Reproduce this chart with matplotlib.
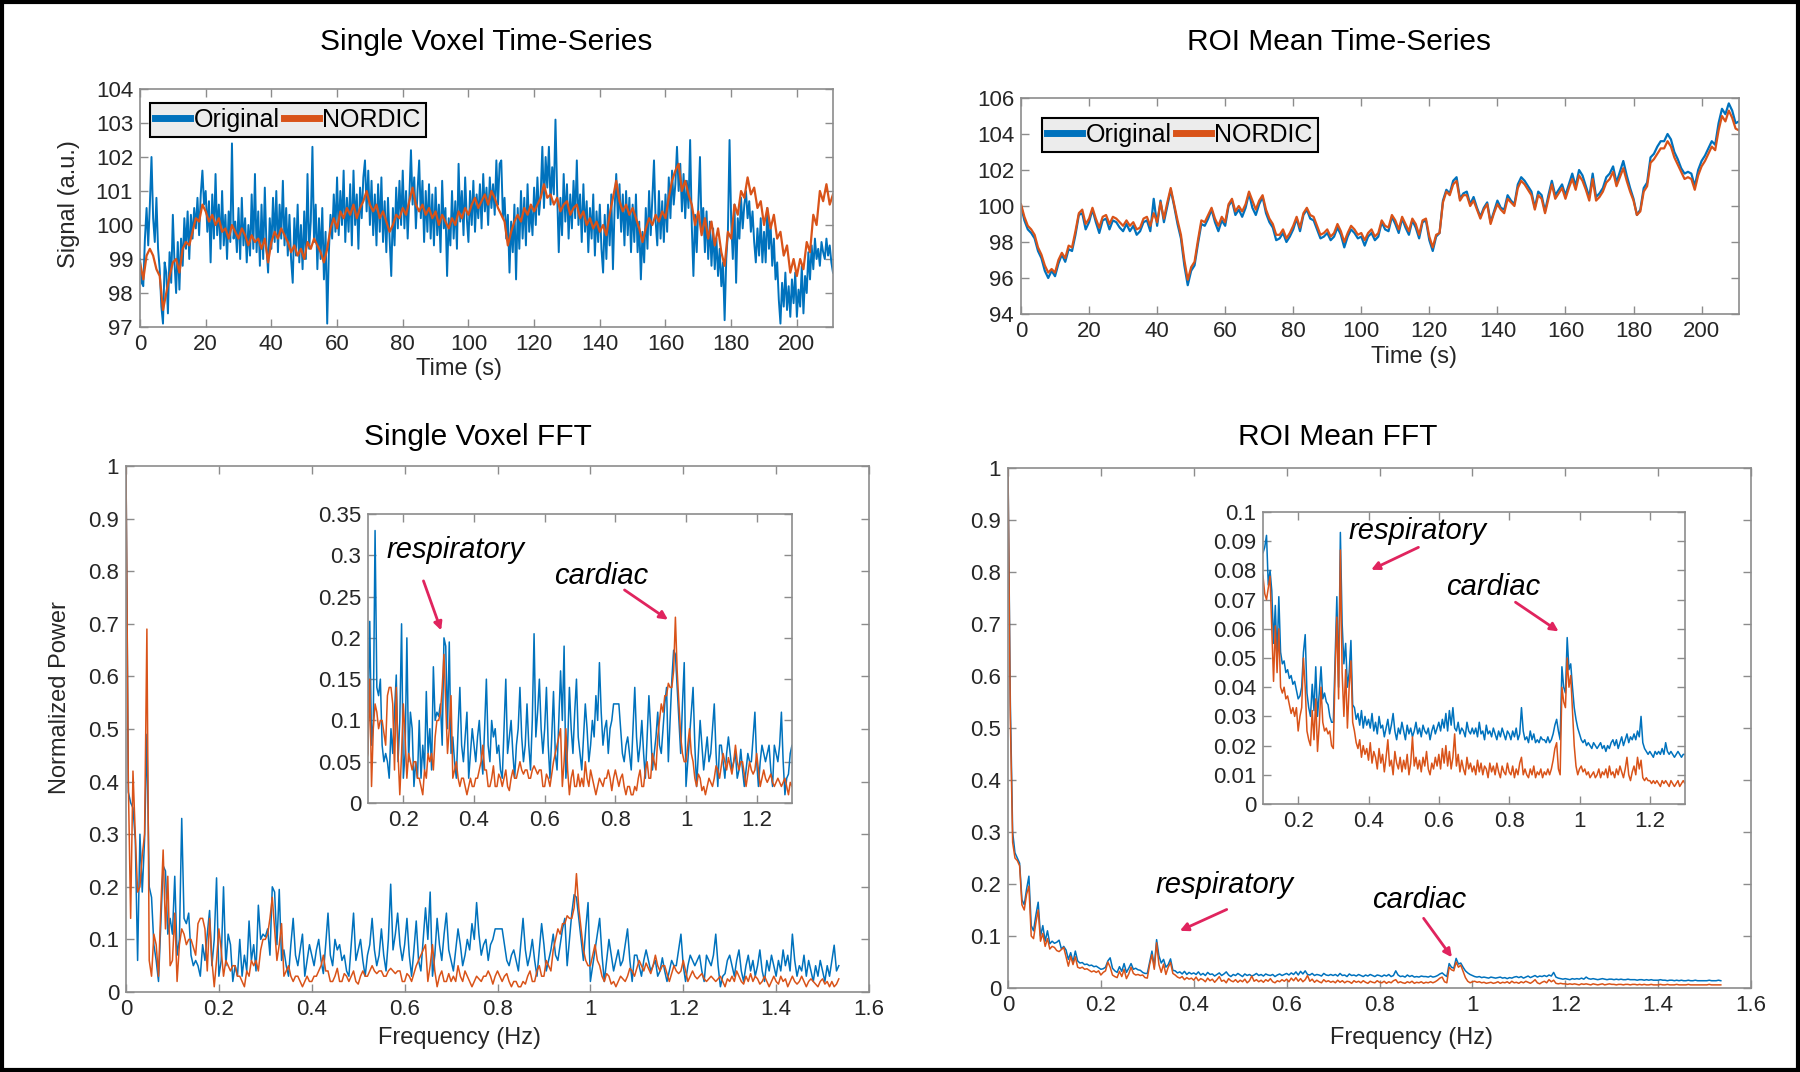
import matplotlib
matplotlib.use("Agg")
import matplotlib.pyplot as plt
import matplotlib.ticker as mticker
from matplotlib.lines import Line2D
from matplotlib.patches import Rectangle
import numpy as np

plt.rcParams['font.family'] = ['Liberation Sans', 'DejaVu Sans']

BLUE = '#0072BD'
ORANGE = '#D95319'
ARROW = '#E0245E'
SPINE = '#8c8c8c'

# ---------------- data ----------------
# single voxel time-series, Original sampled every 0.5 s, NORDIC every 1 s
voxel_orig = [
    99.0, 98.3, 98.2, 99.6, 100.5, 99.4, 100.6, 102.0, 100.2, 99.5, 100.8, 99.3, 98.7, 97.6, 97.1, 98.9, 98.6, 97.4, 99.2, 98.3,
    100.3, 98.9, 98.0, 99.5, 98.1, 99.6, 98.8, 100.2, 99.3, 100.4, 99.0, 100.3, 99.6, 100.5, 99.9, 100.8, 99.7, 100.9, 101.6, 100.6,
    101.0, 99.8, 100.7, 98.9, 100.9, 99.6, 101.5, 99.7, 100.6, 99.3, 101.0, 99.4, 100.3, 99.0, 100.4, 99.5, 102.4, 99.6, 100.1, 99.2,
    100.5, 99.0, 100.8, 99.4, 100.2, 98.9, 100.0, 99.1, 100.9, 99.3, 101.5, 99.2, 100.4, 98.8, 100.6, 99.0, 101.1, 99.4, 98.6, 100.2,
    99.3, 100.8, 99.5, 101.0, 99.2, 100.6, 99.6, 101.3, 99.4, 100.5, 99.1, 100.3, 99.0, 98.3, 100.2, 99.1, 100.6, 98.9, 100.0, 98.7,
    100.4, 99.0, 101.5, 99.3, 100.1, 102.3, 99.5, 100.6, 98.7, 100.2, 99.0, 100.5, 98.4, 99.8, 97.1, 99.2, 100.3, 99.6, 100.9, 99.8,
    101.4, 99.7, 101.0, 100.0, 101.6, 99.5, 100.8, 99.8, 101.2, 99.4, 101.6, 100.0, 100.9, 99.3, 101.1, 100.2, 101.4, 101.9, 100.4, 101.6,
    100.0, 101.3, 99.7, 100.9, 99.4, 101.2, 99.8, 101.4, 99.5, 100.7, 99.2, 100.8, 99.6, 98.5, 100.5, 99.4, 101.1, 99.9, 101.3, 100.0,
    101.6, 99.9, 101.0, 99.6, 100.8, 102.2, 100.6, 101.4, 99.9, 101.0, 101.9, 100.2, 101.3, 99.5, 101.0, 99.8, 101.2, 99.6, 100.9, 99.4,
    101.1, 99.7, 100.6, 99.2, 101.3, 99.9, 100.5, 98.5, 100.2, 99.4, 101.0, 99.6, 100.7, 99.3, 101.8, 100.1, 101.0, 99.7, 101.4, 100.2,
    99.5, 101.0, 100.0, 101.3, 99.8, 100.9, 100.2, 101.2, 99.9, 101.5, 100.4, 101.1, 100.0, 101.4, 100.5, 101.2, 100.3, 101.9, 100.6, 101.8,
    101.9, 100.2, 100.8, 99.6, 100.3, 98.6, 100.1, 99.2, 100.6, 98.4, 100.5, 99.3, 101.0, 99.6, 100.8, 99.4, 101.2, 99.8, 100.5, 99.7,
    101.1, 100.0, 101.4, 100.3, 100.9, 102.3, 100.5, 102.0, 101.1, 102.3, 100.6, 101.7, 100.9, 103.1, 101.0, 99.2, 100.8, 99.7, 101.5, 100.1,
    101.2, 99.6, 100.9, 99.9, 101.3, 100.2, 101.9, 100.0, 100.9, 99.5, 101.2, 99.8, 100.7, 99.2, 100.5, 99.6, 100.9, 99.1, 100.4, 99.5,
    100.6, 99.3, 98.6, 100.3, 99.0, 100.6, 99.4, 100.9, 98.7, 100.5, 101.5, 100.2, 101.2, 99.8, 100.9, 99.4, 101.0, 99.7, 100.8, 99.2,
    100.6, 99.5, 100.9, 99.2, 100.1, 98.4, 99.8, 98.9, 100.5, 99.3, 101.0, 99.7, 100.8, 101.9, 100.1, 99.4, 101.0, 99.6, 100.7, 99.5,
    100.9, 99.8, 101.4, 100.2, 101.6, 100.6, 101.2, 102.3, 101.0, 101.8, 100.4, 101.5, 100.2, 101.3, 100.5, 102.5, 100.0, 98.5, 100.3, 99.2,
    100.6, 102.0, 99.8, 100.5, 99.2, 100.4, 99.0, 100.1, 98.8, 99.9, 98.7, 99.6, 98.5, 99.3, 98.2, 98.9, 97.2, 99.0, 99.8, 102.5,
    100.1, 99.0, 100.6, 98.3, 100.2, 99.6, 100.8, 99.9, 100.6, 101.0, 100.2, 100.7, 99.8, 100.4, 99.5, 98.9, 99.9, 99.1, 100.2, 98.9,
    99.8, 98.9, 100.5, 99.3, 100.0, 98.8, 99.6, 98.4, 98.9, 97.8, 97.1, 98.3, 97.6, 98.6, 97.5, 98.2, 97.3, 98.4, 97.7, 98.6,
    97.3, 98.1, 97.6, 98.8, 97.4, 98.5, 98.0, 99.2, 98.4, 99.4, 98.7, 99.6, 99.0, 99.3, 98.8, 99.5, 99.2, 99.0, 99.6, 99.1, 99.4, 98.9, 98.6,
]
voxel_nordic = [
    98.9, 98.4, 99.1, 99.3, 99.1, 98.7, 98.5, 97.5, 98.0, 98.5, 98.9, 99.0, 98.6, 99.3, 99.5, 99.4, 99.8, 100.2, 100.1, 100.6,
    100.4, 100.1, 100.3, 100.0, 100.2, 99.8, 99.9, 99.6, 100.0, 99.8, 99.6, 99.9, 99.7, 99.4, 99.7, 99.5, 99.6, 99.3, 99.6, 98.9,
    99.5, 99.8, 99.6, 99.9, 99.7, 99.5, 99.2, 99.4, 99.1, 99.3, 99.0, 99.5, 99.3, 99.6, 99.4, 99.2, 98.9, 99.3, 99.9, 100.2,
    99.9, 100.4, 100.2, 100.5, 100.3, 100.6, 100.2, 100.5, 100.7, 101.0, 100.6, 100.4, 100.6, 100.2, 100.4, 100.1, 99.8, 100.0, 100.3, 100.2,
    100.5, 100.3, 100.7, 101.1, 100.6, 100.4, 100.6, 100.3, 100.5, 100.2, 100.4, 100.0, 100.3, 100.1, 99.9, 100.2, 100.0, 100.4, 100.2, 100.5,
    100.3, 100.6, 100.8, 100.5, 100.7, 100.9, 100.6, 101.0, 100.8, 100.5, 100.3, 100.1, 99.4, 99.8, 100.1, 100.3, 100.1, 100.5, 100.3, 100.6,
    100.4, 100.6, 100.8, 101.2, 100.8, 100.9, 100.6, 100.8, 100.4, 100.6, 100.7, 100.3, 100.5, 100.6, 100.2, 100.4, 100.0, 100.2, 99.9, 100.1,
    99.8, 100.0, 99.7, 100.3, 100.8, 101.3, 100.7, 100.4, 100.6, 100.3, 100.5, 100.2, 99.9, 99.5, 99.9, 100.2, 100.0, 100.3, 100.1, 100.4,
    100.2, 100.8, 101.3, 101.6, 101.8, 101.0, 101.3, 100.9, 100.6, 100.0, 100.4, 99.7, 100.2, 99.6, 100.1, 99.4, 99.9, 99.2, 98.8, 99.8,
    99.6, 100.6, 100.3, 101.0, 100.8, 101.4, 100.9, 101.1, 100.5, 100.7, 100.0, 100.5, 99.9, 100.3, 99.6, 99.8, 99.1, 99.4, 98.6, 99.0,
    98.5, 99.0, 98.7, 99.5, 99.2, 100.3, 100.0, 101.0, 100.7, 101.2, 100.6, 100.9,
]

# ROI mean time-series, 1 s sampling
roi_orig = [
    100.0, 99.2, 98.7, 98.5, 98.2, 97.5, 97.1, 96.4, 96.0, 96.4, 96.1, 96.8, 97.3, 96.9, 97.6, 97.5, 98.4, 99.5, 99.6, 98.7,
    99.1, 99.8, 99.1, 98.5, 99.2, 99.3, 98.7, 99.2, 99.1, 98.8, 98.6, 99.0, 98.6, 98.9, 98.4, 98.6, 99.1, 99.2, 98.6, 100.4,
    98.9, 100.3, 99.1, 100.0, 100.9, 100.0, 99.0, 98.2, 96.7, 95.6, 96.4, 96.7, 97.9, 99.0, 98.9, 99.3, 99.8, 99.1, 98.6, 99.2,
    98.9, 100.0, 100.3, 99.5, 99.8, 99.4, 99.9, 100.7, 99.9, 99.5, 100.1, 100.5, 99.6, 99.1, 98.8, 98.1, 98.2, 98.5, 98.0, 98.3,
    98.7, 99.3, 98.6, 99.5, 99.8, 99.3, 99.2, 98.7, 98.2, 98.3, 98.5, 98.1, 98.3, 98.8, 98.4, 97.7, 98.3, 98.7, 98.5, 98.2,
    98.3, 97.8, 98.3, 98.5, 98.1, 98.3, 99.1, 98.7, 98.6, 99.4, 99.0, 98.5, 99.3, 98.8, 98.4, 99.2, 98.8, 98.2, 99.1, 99.2,
    98.1, 97.5, 98.3, 98.5, 100.3, 100.9, 100.7, 101.4, 101.6, 100.4, 100.7, 100.8, 100.1, 100.5, 99.9, 99.4, 99.9, 100.2, 99.1, 99.7,
    100.3, 99.9, 99.8, 100.6, 100.3, 100.1, 101.2, 101.6, 101.4, 101.1, 100.8, 99.9, 100.8, 100.6, 99.7, 100.6, 101.4, 100.6, 100.9, 101.2,
    100.6, 101.2, 101.8, 101.1, 102.0, 101.7, 101.1, 100.5, 101.8, 100.5, 100.7, 101.0, 101.6, 101.8, 102.2, 101.3, 101.9, 102.5, 101.7, 101.0,
    100.4, 99.5, 99.8, 101.0, 101.3, 102.7, 102.9, 103.3, 103.6, 103.6, 104.0, 103.7, 103.0, 102.6, 102.1, 101.8, 101.9, 101.8, 101.1, 102.0,
    102.5, 102.8, 103.2, 103.6, 103.4, 104.6, 105.4, 105.1, 105.7, 105.3, 104.6, 104.7,
]
roi_nordic = [
    100.1, 99.4, 98.9, 98.7, 98.4, 97.7, 97.3, 96.7, 96.3, 96.5, 96.3, 97.0, 97.4, 97.1, 97.8, 97.7, 98.6, 99.6, 99.8, 99.0,
    99.3, 99.9, 99.3, 98.8, 99.4, 99.5, 99.0, 99.4, 99.3, 99.1, 98.9, 99.2, 98.9, 99.1, 98.7, 98.8, 99.3, 99.4, 98.9, 99.6,
    99.1, 100.2, 99.3, 100.2, 101.0, 100.1, 99.2, 98.4, 97.0, 95.9, 96.6, 96.9, 98.1, 99.2, 99.1, 99.5, 99.9, 99.3, 98.9, 99.4,
    99.1, 100.1, 100.4, 99.7, 100.0, 99.7, 100.1, 100.8, 100.3, 99.8, 100.3, 100.6, 99.8, 99.3, 99.0, 98.4, 98.4, 98.7, 98.2, 98.5,
    98.9, 99.4, 98.8, 99.6, 99.9, 99.5, 99.4, 98.9, 98.4, 98.5, 98.7, 98.3, 98.5, 99.0, 98.6, 98.0, 98.5, 98.9, 98.7, 98.4,
    98.5, 98.1, 98.5, 98.7, 98.3, 98.5, 99.2, 98.9, 98.8, 99.5, 99.2, 98.7, 99.4, 99.0, 98.6, 99.3, 99.0, 98.4, 99.2, 99.3,
    98.3, 97.7, 98.4, 98.5, 100.2, 100.8, 100.6, 101.2, 101.4, 100.3, 100.6, 100.6, 100.0, 100.3, 99.8, 99.3, 99.8, 100.1, 99.0, 99.6,
    100.1, 99.8, 99.6, 100.4, 100.2, 100.0, 101.0, 101.4, 101.2, 100.9, 100.6, 99.8, 100.6, 100.4, 99.6, 100.4, 101.2, 100.4, 100.7, 101.0,
    100.4, 101.0, 101.5, 100.9, 101.7, 101.4, 100.9, 100.3, 101.5, 100.3, 100.5, 100.8, 101.3, 101.5, 101.9, 101.1, 101.6, 102.1, 101.4, 100.8,
    100.3, 99.5, 99.7, 100.8, 101.1, 102.4, 102.6, 102.9, 103.2, 103.2, 103.6, 103.3, 102.7, 102.3, 101.9, 101.5, 101.6, 101.5, 100.9, 101.7,
    102.2, 102.5, 102.9, 103.3, 103.1, 104.2, 105.0, 104.7, 105.3, 104.9, 104.3, 104.2,
]

# normalized power spectra, 0.005 Hz bins starting at 0 Hz
voxel_fft_orig = [
    1.00, 0.38, 0.36, 0.35, 0.29, 0.06, 0.30, 0.19, 0.29, 0.49,
    0.20, 0.18, 0.09, 0.06, 0.02, 0.13, 0.24, 0.23, 0.11, 0.14,
    0.11, 0.22, 0.07, 0.10, 0.33, 0.14, 0.13, 0.15, 0.07, 0.05,
    0.06, 0.05, 0.03, 0.09, 0.06, 0.11, 0.155, 0.05, 0.10, 0.217,
    0.03, 0.06, 0.20, 0.05, 0.11, 0.09, 0.02, 0.05, 0.03, 0.10,
    0.03, 0.07, 0.04, 0.135, 0.06, 0.09, 0.04, 0.165, 0.10, 0.11,
    0.105, 0.12, 0.07, 0.20, 0.19, 0.09, 0.195, 0.06, 0.08, 0.05,
    0.03, 0.09, 0.14, 0.07, 0.05, 0.08, 0.11, 0.03, 0.06, 0.09,
    0.07, 0.05, 0.08, 0.10, 0.06, 0.035, 0.09, 0.15, 0.07, 0.05,
    0.10, 0.08, 0.09, 0.06, 0.07, 0.04, 0.03, 0.09, 0.15, 0.06,
    0.08, 0.10, 0.06, 0.03, 0.07, 0.09, 0.14, 0.08, 0.05, 0.07,
    0.12, 0.07, 0.04, 0.10, 0.205, 0.08, 0.11, 0.15, 0.09, 0.06,
    0.09, 0.14, 0.07, 0.03, 0.08, 0.135, 0.06, 0.04, 0.10, 0.16,
    0.10, 0.19, 0.03, 0.07, 0.14, 0.09, 0.06, 0.11, 0.15, 0.08,
    0.06, 0.04, 0.08, 0.12, 0.09, 0.05, 0.07, 0.10, 0.08, 0.13,
    0.10, 0.17, 0.11, 0.07, 0.09, 0.10, 0.06, 0.09, 0.10, 0.12,
    0.12, 0.12, 0.12, 0.09, 0.06, 0.05, 0.07, 0.08, 0.06, 0.04,
    0.09, 0.14, 0.08, 0.05, 0.07, 0.10, 0.06, 0.03, 0.08, 0.13,
    0.09, 0.04, 0.06, 0.08, 0.11, 0.07, 0.06, 0.09, 0.12, 0.14,
    0.05, 0.10, 0.15, 0.185, 0.18, 0.14, 0.10, 0.06, 0.12, 0.17,
    0.02, 0.05, 0.08, 0.11, 0.14, 0.07, 0.02, 0.06, 0.10, 0.07,
    0.04, 0.06, 0.08, 0.05, 0.06, 0.09, 0.12, 0.06, 0.02, 0.07,
    0.07, 0.05, 0.03, 0.06, 0.08, 0.06, 0.04, 0.05, 0.06, 0.03,
    0.04, 0.065, 0.04, 0.02, 0.04, 0.06, 0.05, 0.05, 0.08, 0.11,
    0.05, 0.02, 0.05, 0.07, 0.06, 0.05, 0.06, 0.07, 0.04, 0.02,
    0.07, 0.06, 0.05, 0.07, 0.11, 0.05, 0.01, 0.03, 0.035, 0.06,
    0.07, 0.05, 0.03, 0.06, 0.08, 0.04, 0.02, 0.05, 0.07, 0.04,
    0.06, 0.03, 0.05, 0.08, 0.04, 0.02, 0.06, 0.04, 0.07, 0.05,
    0.03, 0.06, 0.04, 0.08, 0.05, 0.07, 0.04, 0.11, 0.06, 0.03,
    0.05, 0.04, 0.07, 0.03, 0.06, 0.04, 0.02, 0.05, 0.03, 0.06,
    0.04, 0.02, 0.05, 0.03, 0.06, 0.089, 0.04, 0.05,
]
voxel_fft_nordic = [
    1.00, 0.40, 0.14, 0.42, 0.30, 0.19, 0.20, 0.26, 0.30, 0.69,
    0.06, 0.03, 0.11, 0.09, 0.03, 0.16, 0.27, 0.12, 0.22, 0.05,
    0.06, 0.15, 0.02, 0.09, 0.12, 0.11, 0.09, 0.10, 0.10, 0.085,
    0.07, 0.13, 0.14, 0.14, 0.12, 0.04, 0.14, 0.06, 0.01, 0.06,
    0.12, 0.08, 0.03, 0.06, 0.05, 0.04, 0.05, 0.05, 0.03, 0.03,
    0.02, 0.01, 0.04, 0.03, 0.06, 0.05, 0.06, 0.04, 0.08, 0.10,
    0.10, 0.11, 0.14, 0.18, 0.12, 0.06, 0.09, 0.13, 0.03, 0.04,
    0.05, 0.03, 0.02, 0.03, 0.03, 0.02, 0.01, 0.02, 0.03, 0.02,
    0.02, 0.03, 0.03, 0.04, 0.05, 0.07, 0.04, 0.04, 0.02, 0.02,
    0.03, 0.045, 0.02, 0.02, 0.035, 0.03, 0.02, 0.03, 0.04, 0.02,
    0.015, 0.03, 0.04, 0.03, 0.03, 0.04, 0.05, 0.04, 0.035, 0.04,
    0.04, 0.03, 0.03, 0.04, 0.045, 0.04, 0.035, 0.04, 0.04, 0.02,
    0.02, 0.035, 0.03, 0.02, 0.035, 0.05, 0.06, 0.07, 0.08, 0.09,
    0.02, 0.05, 0.09, 0.04, 0.01, 0.03, 0.04, 0.02, 0.02, 0.035,
    0.02, 0.03, 0.02, 0.05, 0.03, 0.02, 0.04, 0.03, 0.02, 0.01,
    0.02, 0.03, 0.025, 0.02, 0.03, 0.03, 0.04, 0.03, 0.015, 0.03,
    0.04, 0.03, 0.02, 0.03, 0.035, 0.02, 0.01, 0.02, 0.02, 0.01,
    0.01, 0.02, 0.015, 0.03, 0.04, 0.02, 0.02, 0.04, 0.05, 0.03,
    0.03, 0.06, 0.05, 0.04, 0.08, 0.10, 0.12, 0.11, 0.13, 0.13,
    0.145, 0.14, 0.14, 0.16, 0.225, 0.16, 0.12, 0.08, 0.06, 0.05,
    0.05, 0.07, 0.09, 0.06, 0.05, 0.03, 0.02, 0.035, 0.03, 0.015,
    0.02, 0.01, 0.02, 0.03, 0.025, 0.02, 0.03, 0.045, 0.04, 0.03,
    0.045, 0.06, 0.05, 0.04, 0.055, 0.045, 0.035, 0.05, 0.07, 0.05,
    0.04, 0.05, 0.05, 0.035, 0.02, 0.035, 0.05, 0.04, 0.035, 0.04,
    0.06, 0.04, 0.02, 0.03, 0.04, 0.03, 0.025, 0.03, 0.035, 0.025,
    0.02, 0.025, 0.03, 0.025, 0.02, 0.025, 0.03, 0.02, 0.01, 0.025,
    0.02, 0.03, 0.02, 0.04, 0.03, 0.02, 0.015, 0.03, 0.02, 0.035,
    0.02, 0.03, 0.025, 0.015, 0.02, 0.03, 0.02, 0.01, 0.02, 0.03,
    0.02, 0.015, 0.03, 0.02, 0.025, 0.01, 0.02, 0.03, 0.02, 0.015,
    0.02, 0.03, 0.02, 0.01, 0.02, 0.025, 0.02, 0.015, 0.01, 0.02,
    0.025, 0.015, 0.02, 0.01, 0.02, 0.01, 0.015, 0.025,
]
roi_fft_orig = [
    1.00, 0.55, 0.30, 0.26, 0.25, 0.24, 0.17, 0.16, 0.19, 0.215,
    0.12, 0.11, 0.14, 0.165, 0.10, 0.12, 0.09, 0.11, 0.085, 0.09,
    0.086, 0.088, 0.092, 0.075, 0.080, 0.073, 0.055, 0.068, 0.050, 0.071,
    0.052, 0.048, 0.049, 0.045, 0.046, 0.043, 0.044, 0.041, 0.042, 0.039,
    0.036, 0.037, 0.040, 0.052, 0.058, 0.038, 0.033, 0.030, 0.041, 0.032,
    0.047, 0.030, 0.038, 0.047, 0.036, 0.038, 0.035, 0.034, 0.030, 0.028,
    0.028, 0.050, 0.071, 0.040, 0.093, 0.062, 0.048, 0.055, 0.040, 0.045,
    0.056, 0.034, 0.033, 0.029, 0.031, 0.027, 0.032, 0.026, 0.030, 0.027,
    0.029, 0.026, 0.031, 0.025, 0.028, 0.024, 0.030, 0.026, 0.027, 0.023,
    0.026, 0.029, 0.024, 0.027, 0.031, 0.025, 0.022, 0.026, 0.024, 0.028,
    0.025, 0.022, 0.027, 0.024, 0.026, 0.023, 0.025, 0.028, 0.024, 0.026,
    0.023, 0.027, 0.025, 0.024, 0.026, 0.022, 0.025, 0.027, 0.024, 0.026,
    0.028, 0.025, 0.029, 0.026, 0.031, 0.025, 0.032, 0.027, 0.033, 0.026,
    0.025, 0.028, 0.024, 0.026, 0.025, 0.023, 0.028, 0.025, 0.024, 0.026,
    0.024, 0.026, 0.023, 0.028, 0.024, 0.025, 0.022, 0.027, 0.024, 0.025,
    0.023, 0.026, 0.024, 0.022, 0.025, 0.023, 0.026, 0.024, 0.022, 0.025,
    0.024, 0.022, 0.025, 0.023, 0.026, 0.022, 0.024, 0.033, 0.025, 0.022,
    0.023, 0.021, 0.025, 0.022, 0.024, 0.021, 0.022, 0.021, 0.023, 0.022,
    0.022, 0.021, 0.023, 0.021, 0.022, 0.024, 0.027, 0.029, 0.025, 0.022,
    0.047, 0.040, 0.038, 0.057, 0.046, 0.048, 0.040, 0.033, 0.029, 0.026,
    0.024, 0.022, 0.021, 0.022, 0.020, 0.021, 0.020, 0.019, 0.021, 0.020,
    0.019, 0.020, 0.021, 0.019, 0.020, 0.018, 0.020, 0.019, 0.021, 0.022,
    0.020, 0.022, 0.019, 0.021, 0.023, 0.020, 0.022, 0.024, 0.021, 0.023,
    0.022, 0.024, 0.022, 0.025, 0.023, 0.030, 0.021, 0.019, 0.018, 0.017,
    0.018, 0.017, 0.016, 0.018, 0.017, 0.018, 0.017, 0.019, 0.017, 0.021,
    0.018, 0.017, 0.018, 0.017, 0.016, 0.017, 0.018, 0.017, 0.016, 0.017,
    0.017, 0.016, 0.017, 0.016, 0.017, 0.016, 0.016, 0.017, 0.016, 0.016,
    0.016, 0.015, 0.016, 0.016, 0.015, 0.016, 0.015, 0.016, 0.015, 0.015,
    0.015, 0.016, 0.015, 0.015, 0.014, 0.015, 0.015, 0.014, 0.015, 0.014,
    0.015, 0.014, 0.014, 0.015, 0.014, 0.014, 0.015, 0.014, 0.014, 0.014,
    0.014, 0.014, 0.015, 0.014, 0.014, 0.014, 0.015, 0.014,
]
roi_fft_nordic = [
    1.00, 0.52, 0.28, 0.25, 0.245, 0.235, 0.16, 0.15, 0.18, 0.196,
    0.10, 0.095, 0.125, 0.15, 0.09, 0.105, 0.08, 0.095, 0.075, 0.08,
    0.078, 0.072, 0.070, 0.074, 0.078, 0.060, 0.042, 0.061, 0.045, 0.060,
    0.040, 0.038, 0.040, 0.036, 0.037, 0.034, 0.031, 0.033, 0.030, 0.033,
    0.025, 0.030, 0.033, 0.050, 0.040, 0.025, 0.022, 0.020, 0.032, 0.022,
    0.036, 0.018, 0.027, 0.040, 0.028, 0.025, 0.026, 0.024, 0.025, 0.020,
    0.019, 0.045, 0.064, 0.036, 0.087, 0.045, 0.030, 0.046, 0.026, 0.040,
    0.049, 0.028, 0.025, 0.021, 0.019, 0.022, 0.016, 0.020, 0.017, 0.019,
    0.015, 0.021, 0.014, 0.018, 0.016, 0.012, 0.019, 0.014, 0.017, 0.011,
    0.016, 0.022, 0.013, 0.015, 0.010, 0.018, 0.014, 0.012, 0.016, 0.011,
    0.015, 0.012, 0.017, 0.010, 0.014, 0.023, 0.013, 0.016, 0.012, 0.015,
    0.011, 0.016, 0.013, 0.018, 0.012, 0.010, 0.014, 0.012, 0.016, 0.013,
    0.017, 0.012, 0.019, 0.014, 0.020, 0.013, 0.018, 0.012, 0.016, 0.024,
    0.013, 0.017, 0.011, 0.015, 0.012, 0.010, 0.016, 0.012, 0.014, 0.011,
    0.013, 0.010, 0.015, 0.011, 0.014, 0.010, 0.013, 0.012, 0.009, 0.014,
    0.011, 0.013, 0.010, 0.014, 0.011, 0.009, 0.013, 0.011, 0.010, 0.014,
    0.011, 0.010, 0.013, 0.009, 0.012, 0.010, 0.014, 0.016, 0.010, 0.012,
    0.010, 0.009, 0.012, 0.010, 0.013, 0.009, 0.011, 0.010, 0.012, 0.009,
    0.011, 0.010, 0.012, 0.010, 0.012, 0.015, 0.019, 0.021, 0.012, 0.010,
    0.040, 0.035, 0.033, 0.050, 0.040, 0.044, 0.032, 0.020, 0.013, 0.010,
    0.012, 0.013, 0.011, 0.012, 0.010, 0.011, 0.009, 0.010, 0.011, 0.009,
    0.010, 0.012, 0.009, 0.011, 0.010, 0.012, 0.009, 0.013, 0.010, 0.011,
    0.009, 0.012, 0.010, 0.013, 0.011, 0.009, 0.012, 0.016, 0.010, 0.008,
    0.011, 0.013, 0.010, 0.016, 0.012, 0.015, 0.009, 0.008, 0.009, 0.008,
    0.008, 0.007, 0.008, 0.007, 0.008, 0.007, 0.006, 0.008, 0.007, 0.008,
    0.007, 0.006, 0.008, 0.007, 0.006, 0.007, 0.008, 0.006, 0.007, 0.008,
    0.007, 0.007, 0.006, 0.007, 0.007, 0.006, 0.007, 0.007, 0.006, 0.007,
    0.007, 0.006, 0.007, 0.006, 0.007, 0.006, 0.006, 0.007, 0.006, 0.006,
    0.006, 0.007, 0.006, 0.006, 0.007, 0.006, 0.006, 0.006, 0.007, 0.006,
    0.006, 0.006, 0.006, 0.007, 0.006, 0.006, 0.006, 0.006, 0.006, 0.006,
    0.006, 0.006, 0.007, 0.006, 0.006, 0.006, 0.006, 0.006,
]

t_voxel_orig = np.arange(len(voxel_orig)) * 0.5
t_voxel_nordic = np.arange(len(voxel_nordic)) * 1.0
t_roi = np.arange(len(roi_orig)) * 1.0
freq = np.arange(len(voxel_fft_orig)) * 0.005

W, H = 1800, 1072


def rect(x0, y0, x1, y1):
    # pixel box (top-left origin) -> figure fraction
    return [x0 / W, 1 - y1 / H, (x1 - x0) / W, (y1 - y0) / H]


def style(ax, labelsize=16):
    for s in ax.spines.values():
        s.set_color(SPINE)
        s.set_linewidth(1.2)
    ax.tick_params(direction='in', top=True, right=True, length=6, width=1,
                   color=SPINE, labelsize=labelsize, labelcolor='#262626', pad=5)


fmt = mticker.FuncFormatter(lambda v, _: f'{v:g}')

fig = plt.figure(figsize=(18, 10.72), dpi=100)

# ---- top left: single voxel time-series
ax1 = fig.add_axes(rect(140, 89, 833, 327))
ax1.plot(t_voxel_orig, voxel_orig, color=BLUE, lw=1.4)
ax1.plot(t_voxel_nordic, voxel_nordic, color=ORANGE, lw=1.6)
ax1.set_xlim(0, 211)
ax1.set_ylim(97, 104)
ax1.set_xticks(np.arange(0, 201, 20))
ax1.set_yticks(np.arange(97, 105, 1))
style(ax1)

# ---- top right: ROI mean time-series
ax2 = fig.add_axes(rect(1021, 98, 1739, 314))
ax2.plot(t_roi, roi_orig, color=BLUE, lw=1.6)
ax2.plot(t_roi, roi_nordic, color=ORANGE, lw=1.6)
ax2.set_xlim(0, 211)
ax2.set_ylim(94, 106)
ax2.set_xticks(np.arange(0, 201, 20))
ax2.set_yticks(np.arange(94, 107, 2))
style(ax2)

handles = [Line2D([], [], color=BLUE, lw=5), Line2D([], [], color=ORANGE, lw=5)]
for ax, (lx, ly) in [(ax1, (150, 103)), (ax2, (1042, 118))]:
    leg = ax.legend(handles, ['Original', 'NORDIC'], ncol=2, loc='upper left',
                    bbox_to_anchor=(lx / W, 1 - ly / H), bbox_transform=fig.transFigure,
                    fontsize=18, handlelength=1.4, handletextpad=0.15, columnspacing=0.15,
                    borderpad=0.2, borderaxespad=0, fancybox=False, framealpha=1,
                    edgecolor='black', facecolor='#ececec')
    leg.get_frame().set_linewidth(1.5)

# ---- bottom left: single voxel FFT
ax3 = fig.add_axes(rect(126, 466, 869, 992))
ax3.plot(freq, voxel_fft_orig, color=BLUE, lw=1.1)
ax3.plot(freq, voxel_fft_nordic, color=ORANGE, lw=1.1)
ax3.set_xlim(0, 1.6)
ax3.set_ylim(0, 1)
ax3.set_xticks(np.arange(0, 1.61, 0.2))
ax3.set_yticks(np.arange(0, 1.01, 0.1))
ax3.xaxis.set_major_formatter(fmt)
ax3.yaxis.set_major_formatter(fmt)
style(ax3)

ax3i = fig.add_axes(rect(368, 514, 792, 803))
ax3i.plot(freq, voxel_fft_orig, color=BLUE, lw=1.1)
ax3i.plot(freq, voxel_fft_nordic, color=ORANGE, lw=1.1)
ax3i.set_xlim(0.1, 1.3)
ax3i.set_ylim(0, 0.35)
ax3i.set_xticks(np.arange(0.2, 1.21, 0.2))
ax3i.set_yticks(np.arange(0, 0.351, 0.05))
ax3i.xaxis.set_major_formatter(fmt)
ax3i.yaxis.set_major_formatter(fmt)
style(ax3i)

# ---- bottom right: ROI mean FFT
ax4 = fig.add_axes(rect(1008, 468, 1751, 988))
ax4.plot(freq, roi_fft_orig, color=BLUE, lw=1.1)
ax4.plot(freq, roi_fft_nordic, color=ORANGE, lw=1.1)
ax4.set_xlim(0, 1.6)
ax4.set_ylim(0, 1)
ax4.set_xticks(np.arange(0, 1.61, 0.2))
ax4.set_yticks(np.arange(0, 1.01, 0.1))
ax4.xaxis.set_major_formatter(fmt)
ax4.yaxis.set_major_formatter(fmt)
style(ax4)

ax4i = fig.add_axes(rect(1263, 512, 1685, 804))
ax4i.plot(freq, roi_fft_orig, color=BLUE, lw=1.1)
ax4i.plot(freq, roi_fft_nordic, color=ORANGE, lw=1.1)
ax4i.set_xlim(0.1, 1.3)
ax4i.set_ylim(0, 0.1)
ax4i.set_xticks(np.arange(0.2, 1.21, 0.2))
ax4i.set_yticks(np.arange(0, 0.101, 0.01))
ax4i.xaxis.set_major_formatter(fmt)
ax4i.yaxis.set_major_formatter(fmt)
style(ax4i)

# ---- annotations
arrow = dict(arrowstyle='-|>', color=ARROW, lw=2, mutation_scale=12, shrinkA=0, shrinkB=0)
note = dict(fontsize=21, style='italic', ha='left', va='center')
ax3i.text(0.151, 0.306, 'respiratory', **note)
ax3i.annotate('', xy=(0.307, 0.209), xytext=(0.257, 0.269), arrowprops=arrow)
ax3i.text(0.627, 0.275, 'cardiac', **note)
ax3i.annotate('', xy=(0.949, 0.222), xytext=(0.826, 0.258), arrowprops=arrow)

ax4i.text(0.342, 0.0935, 'respiratory', **note)
ax4i.annotate('', xy=(0.4075, 0.0802), xytext=(0.542, 0.0879), arrowprops=arrow)
ax4i.text(0.620, 0.0742, 'cardiac', **note)
ax4i.annotate('', xy=(0.9406, 0.0591), xytext=(0.818, 0.0691), arrowprops=arrow)

ax4.text(0.318, 0.198, 'respiratory', **note)
ax4.annotate('', xy=(0.370, 0.110), xytext=(0.471, 0.151), arrowprops=arrow)
ax4.text(0.783, 0.170, 'cardiac', **note)
ax4.annotate('', xy=(0.956, 0.059), xytext=(0.895, 0.134), arrowprops=arrow)

# ---- titles and axis labels
title_kw = dict(fontsize=21.5, ha='center', va='baseline', color='black')
fig.text(486 / W, 1 - 50 / H, 'Single Voxel Time-Series', **title_kw)
fig.text(1339 / W, 1 - 50 / H, 'ROI Mean Time-Series', **title_kw)
fig.text(478 / W, 1 - 445 / H, 'Single Voxel FFT', **title_kw)
fig.text(1338 / W, 1 - 445 / H, 'ROI Mean FFT', **title_kw)

lab_kw = dict(fontsize=17, ha='center', va='center', color='#262626')
fig.text(459 / W, 1 - 369 / H, 'Time (s)', **lab_kw)
fig.text(1414 / W, 1 - 357 / H, 'Time (s)', **lab_kw)
fig.text(69 / W, 1 - 204 / H, 'Signal (a.u.)', rotation=90, **lab_kw)
fig.text(60 / W, 1 - 698 / H, 'Normalized Power', rotation=90, **lab_kw)
fig.text(459 / W, 1 - 1038 / H, 'Frequency (Hz)', **lab_kw)
fig.text(1412 / W, 1 - 1038 / H, 'Frequency (Hz)', **lab_kw)

# black frame round the whole picture
fig.patches.append(Rectangle((0.001, 0.0015), 0.998, 0.997, transform=fig.transFigure,
                             fill=False, edgecolor='black', lw=3))

fig.savefig('out.png', dpi=100)
